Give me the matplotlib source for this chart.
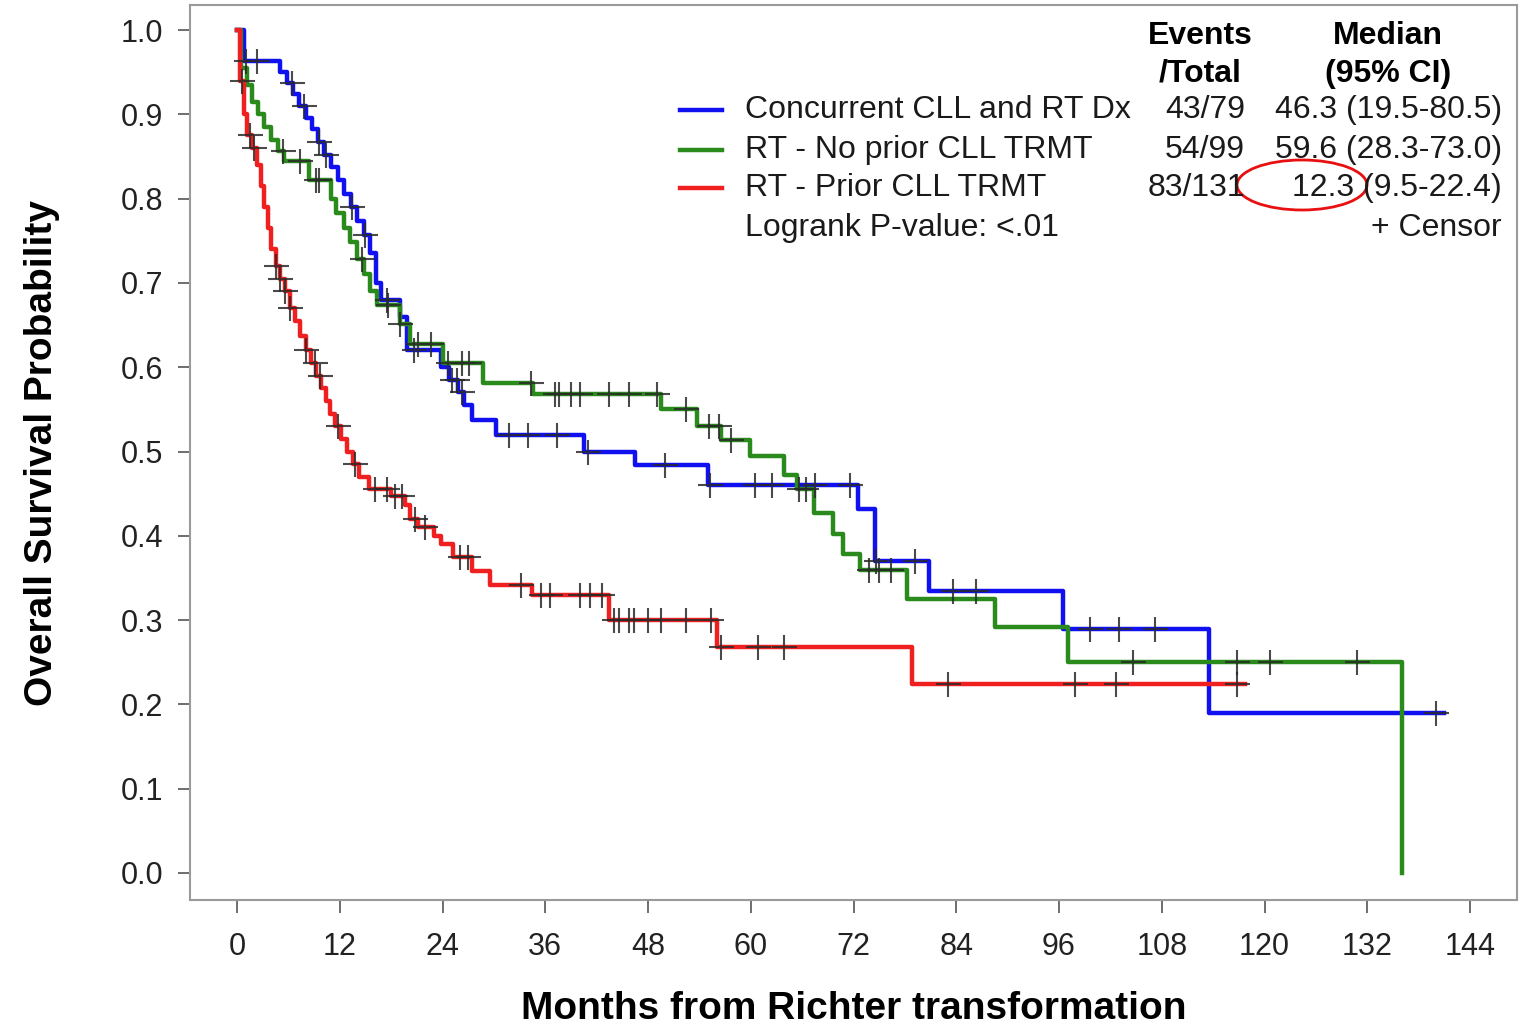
import numpy as np
import matplotlib
matplotlib.use("Agg")
import matplotlib.pyplot as plt
from matplotlib.patches import Ellipse

plt.rcParams['font.family'] = ['Liberation Sans', 'DejaVu Sans']

# --- donnees (mois, survie) ---
blue_t = [0, 0.8, 5.0, 5.8, 6.5, 7.2, 8.0, 8.8, 9.5, 10.2, 11.0, 11.8, 12.5, 13.3, 14.0,
          14.8, 15.5, 16.2, 16.8, 19.0, 19.8, 23.8, 24.8, 25.8, 26.5, 27.5, 30.3, 40.5,
          46.5, 55.0, 72.5, 74.5, 80.8, 96.5, 113.5]
blue_s = [1.0, 0.963, 0.95, 0.937, 0.924, 0.91, 0.896, 0.882, 0.867, 0.852, 0.837, 0.822,
          0.806, 0.79, 0.774, 0.757, 0.735, 0.70, 0.68, 0.66, 0.62, 0.60, 0.585, 0.57,
          0.555, 0.537, 0.52, 0.50, 0.484, 0.46, 0.432, 0.37, 0.335, 0.289, 0.19]
blue_end = 141.0
blue_cens = [1.0, 2.3, 6.4, 7.8, 9.6, 10.4, 13.4, 15.0, 17.5, 20.7, 25.1, 25.7, 26.3,
             31.8, 34.0, 37.4, 41.0, 50.0, 55.2, 60.5, 62.5, 67.5, 71.6, 74.6, 79.2,
             83.6, 86.3, 99.6, 103.0, 107.2, 140.0]

green_t = [0, 0.5, 1.2, 1.8, 2.5, 3.2, 4.0, 4.8, 5.5, 8.4, 11.0, 11.6, 12.5, 13.2, 14.0,
           14.8, 15.5, 16.3, 19.0, 20.2, 24.0, 28.7, 34.6, 49.5, 53.7, 56.5, 59.9, 63.9,
           65.4, 67.4, 69.6, 70.8, 72.8, 78.3, 88.5, 97.0, 136.0]
green_s = [1.0, 0.955, 0.935, 0.915, 0.90, 0.885, 0.87, 0.857, 0.845, 0.822, 0.80, 0.783,
           0.765, 0.748, 0.728, 0.71, 0.69, 0.674, 0.651, 0.628, 0.605, 0.581, 0.568,
           0.55, 0.53, 0.514, 0.495, 0.472, 0.455, 0.427, 0.402, 0.378, 0.36, 0.325,
           0.292, 0.25, 0.0]
green_end = 136.0
green_cens = [5.4, 7.4, 9.2, 9.6, 14.6, 17.6, 19.0, 21.1, 22.7, 24.6, 26.3, 27.1, 34.3,
              37.1, 37.6, 39.0, 40.0, 43.4, 45.8, 49.0, 52.4, 55.1, 56.3, 57.7, 65.6,
              66.4, 73.8, 75.0, 76.4, 104.6, 116.8, 120.6, 130.8]

red_t = [0, 0.3, 0.8, 1.2, 1.8, 2.3, 2.8, 3.2, 3.6, 4.0, 4.5, 5.0, 5.6, 6.2, 6.8, 7.4,
         8.0, 8.6, 9.2, 9.8, 10.4, 10.9, 11.5, 12.2, 12.8, 13.5, 14.2, 15.4, 18.0, 19.6,
         20.2, 21.1, 23.0, 23.8, 25.2, 27.5, 29.5, 34.5, 43.5, 56.0, 78.8]
red_s = [1.0, 0.94, 0.90, 0.875, 0.86, 0.84, 0.815, 0.79, 0.765, 0.74, 0.72, 0.705, 0.69,
         0.67, 0.655, 0.637, 0.62, 0.605, 0.59, 0.575, 0.56, 0.545, 0.53, 0.515, 0.50,
         0.485, 0.47, 0.455, 0.447, 0.437, 0.42, 0.41, 0.40, 0.39, 0.375, 0.358, 0.342,
         0.33, 0.30, 0.268, 0.224]
red_end = 117.7
red_cens = [0.6, 1.5, 2.0, 4.6, 5.0, 5.6, 6.2, 8.0, 9.1, 9.7, 11.8, 13.8, 16.1, 17.5,
            18.5, 19.3, 20.8, 22.0, 26.0, 27.0, 33.2, 35.5, 36.5, 40.0, 41.2, 42.6, 44.0,
            44.6, 45.8, 46.4, 48.0, 49.5, 52.4, 55.3, 56.5, 60.8, 63.9, 83.0, 97.9,
            102.7, 116.8]

group_labels = ["Concurrent CLL and RT Dx", "RT - No prior CLL TRMT", "RT - Prior CLL TRMT"]
events_total = ["43/79", "54/99", "83/131"]
medians = ["46.3 (19.5-80.5)", "59.6 (28.3-73.0)", "12.3 (9.5-22.4)"]
colors = ["#1010f0", "#2a8a1c", "#f02020"]
x_ticks = list(range(0, 145, 12))
y_ticks = [0.0, 0.1, 0.2, 0.3, 0.4, 0.5, 0.6, 0.7, 0.8, 0.9, 1.0]

W, H = 1524, 1026


def fx(x):
    return x / W


def fy(y):
    return 1 - y / H


def step_at(times, surv, t):
    idx = np.searchsorted(np.asarray(times), np.asarray(t), side='right') - 1
    return np.asarray(surv)[idx]


fig = plt.figure(figsize=(W / 100, H / 100), dpi=100)
ax = fig.add_axes([fx(190), fy(900), (1517 - 190) / W, (900 - 5) / H])

series = [(blue_t, blue_s, blue_end, blue_cens, colors[0]),
          (green_t, green_s, green_end, green_cens, colors[1]),
          (red_t, red_s, red_end, red_cens, colors[2])]

for t, s, end, cens, col in series:
    ax.step(list(t) + [end], list(s) + [s[-1]], where='post', color=col, lw=3.2, zorder=3)
    ax.plot(cens, step_at(t, s, cens), ls='none', marker='+', ms=18, mew=1.5,
            color='#2a2a2a', alpha=0.85, zorder=4)

# axes
px_per_month = (1470 - 237) / 144
ax.set_xlim(-(237 - 190) / px_per_month, 144 + (1517 - 1470) / px_per_month)
ax.set_ylim(-(900 - 873) / 843, 1 + (30 - 5) / 843)
ax.set_xticks(x_ticks)
ax.set_yticks(y_ticks)
ax.set_yticklabels([f"{v:.1f}" for v in y_ticks])
ax.tick_params(axis='both', labelsize=22, length=9, width=1.2, color='#555555',
               labelcolor='#222222')
ax.tick_params(axis='x', pad=14)
ax.tick_params(axis='y', pad=10)
for sp in ax.spines.values():
    sp.set_color('#9a9a9a')
    sp.set_linewidth(1.5)

ax.set_xlabel("Months from Richter transformation", fontsize=28, fontweight='bold',
              labelpad=21)
ax.set_ylabel("Overall Survival Probability", fontsize=28, fontweight='bold',
              labelpad=44)

# legende / tableau
fig.text(fx(1200), fy(36), "Events", ha='center', va='center', fontsize=23,
         fontweight='bold')
fig.text(fx(1200), fy(74), "/Total", ha='center', va='center', fontsize=23,
         fontweight='bold')
fig.text(fx(1388), fy(36), "Median", ha='center', va='center', fontsize=23,
         fontweight='bold')
fig.text(fx(1388), fy(74), "(95% CI)", ha='center', va='center', fontsize=23,
         fontweight='bold')

row_y = [110, 150, 188]
for i in range(3):
    ln = plt.Line2D([fx(680), fx(722)], [fy(row_y[i]), fy(row_y[i])],
                    transform=fig.transFigure, color=colors[i], lw=3.2)
    fig.add_artist(ln)
    fig.text(fx(745), fy(row_y[i]), group_labels[i], ha='left', va='center',
             fontsize=23, color='#1a1a1a')
    fig.text(fx(1245), fy(row_y[i]), events_total[i], ha='right', va='center',
             fontsize=23, color='#1a1a1a')
    fig.text(fx(1502), fy(row_y[i]), medians[i], ha='right', va='center',
             fontsize=23, color='#1a1a1a')

fig.text(fx(745), fy(228), "Logrank P-value: <.01", ha='left', va='center',
         fontsize=23, color='#1a1a1a')
fig.text(fx(1502), fy(228), "+ Censor", ha='right', va='center', fontsize=23,
         color='#1a1a1a')

ell = Ellipse((fx(1302), fy(185)), 130 / W, 50 / H, transform=fig.transFigure,
              fill=False, edgecolor='#e81010', lw=2.0)
fig.add_artist(ell)

fig.savefig("out.png", dpi=100)
